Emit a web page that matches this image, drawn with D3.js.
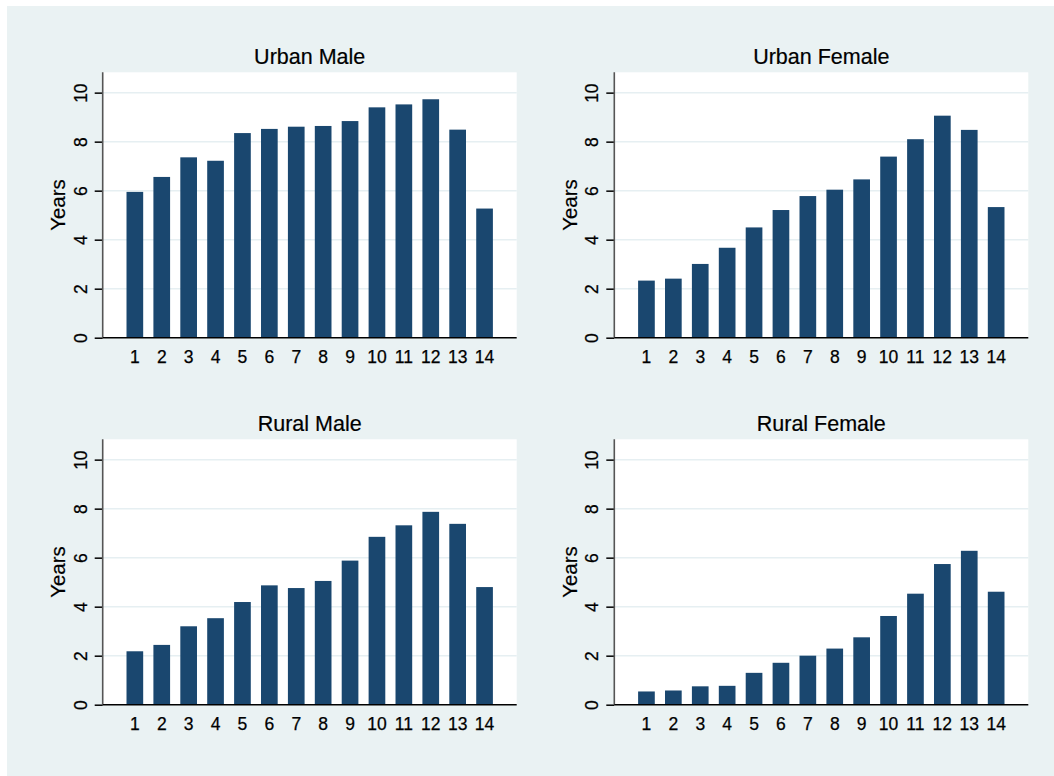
<!DOCTYPE html>
<html>
<head>
<meta charset="utf-8">
<script src="https://cdn.jsdelivr.net/npm/d3@7"></script>
<style>
  html, body { margin: 0; padding: 0; background: #ffffff; }
  svg { display: block; }
  text { font-family: "Liberation Sans", Arial, Helvetica, sans-serif; fill: #000; }
</style>
</head>
<body>
<svg id="chart" width="1054" height="776"></svg>
<script>
// ---- data ----
const categories = [1, 2, 3, 4, 5, 6, 7, 8, 9, 10, 11, 12, 13, 14];
const panelTitles = ["Urban Male", "Urban Female", "Rural Male", "Rural Female"];
const urbanMale   = [5.95, 6.56, 7.36, 7.22, 8.35, 8.52, 8.61, 8.64, 8.84, 9.40, 9.52, 9.73, 8.49, 5.27];
const urbanFemale = [2.33, 2.41, 3.01, 3.67, 4.50, 5.21, 5.78, 6.04, 6.46, 7.39, 8.10, 9.06, 8.48, 5.33];
const ruralMale   = [2.18, 2.44, 3.20, 3.53, 4.19, 4.87, 4.76, 5.05, 5.88, 6.85, 7.32, 7.87, 7.38, 4.80];
const ruralFemale = [0.54, 0.58, 0.75, 0.77, 1.30, 1.71, 2.00, 2.29, 2.75, 3.62, 4.53, 5.74, 6.28, 4.61];
const yTickValues = [0, 2, 4, 6, 8, 10];
const yAxisTitle = "Years";
const yMax = 10.83;

const seriesList = [urbanMale, urbanFemale, ruralMale, ruralFemale];

// ---- layout ----
const svg = d3.select("#chart");
svg.append("rect").attr("x", 7).attr("y", 6).attr("width", 1047).attr("height", 770).attr("fill", "#eaf2f3");

const plotW = 414, plotH = 265.4;
const panelOrigins = [
  [102.7, 72.3], [614.3, 72.3],
  [102.7, 439.3], [614.3, 439.3]
];

const x = d3.scaleBand().domain(categories).range([0, plotW]).paddingInner(0.38).paddingOuter(0.885);
const y = d3.scaleLinear().domain([0, yMax]).range([plotH, 0]);

const fontFam = "'Liberation Sans', Arial, sans-serif";

seriesList.forEach((values, i) => {
  const [ox, oy] = panelOrigins[i];
  const g = svg.append("g").attr("transform", `translate(${ox},${oy})`);

  // plot region
  g.append("rect").attr("x", 0).attr("y", 0).attr("width", plotW).attr("height", plotH).attr("fill", "#ffffff");

  // grid lines
  g.append("g")
    .selectAll("line")
    .data(yTickValues.filter(v => v > 0))
    .join("line")
    .attr("x1", 0).attr("x2", plotW)
    .attr("y1", d => y(d)).attr("y2", d => y(d))
    .attr("stroke", "#e6eff2").attr("stroke-width", 1.5);

  // bars
  g.append("g")
    .selectAll("rect")
    .data(categories.map((c, j) => ({ c, v: values[j] })))
    .join("rect")
    .attr("x", d => x(d.c))
    .attr("width", x.bandwidth())
    .attr("y", d => y(d.v))
    .attr("height", d => y(0) - y(d.v))
    .attr("fill", "#1a476f");

  // y axis
  const yAxis = g.append("g")
    .call(d3.axisLeft(y).tickValues(yTickValues).tickSize(8).tickSizeOuter(0).tickFormat(d3.format("d")));
  yAxis.select(".domain").remove();
  yAxis.selectAll(".tick line").attr("stroke", "#000").attr("stroke-width", 1.5);
  yAxis.selectAll(".tick text")
    .attr("x", null).attr("dy", null).attr("y", null)
    .attr("transform", "translate(-16,0) rotate(-90)")
    .attr("text-anchor", "middle")
    .attr("font-size", 17.5)
    .style("font-size", "17.5px")
    .style("font-family", fontFam)
    .attr("fill", "#000")
    .attr("stroke", "#000").attr("stroke-width", 0.25);
  g.append("line")
    .attr("x1", 0).attr("x2", 0).attr("y1", 0).attr("y2", plotH)
    .attr("stroke", "#555").attr("stroke-width", 1.6);

  // x axis
  const xAxis = g.append("g")
    .attr("transform", `translate(0,${plotH})`)
    .call(d3.axisBottom(x).tickSize(0).tickPadding(13.3));
  xAxis.select(".domain").remove();
  xAxis.selectAll(".tick text")
    .attr("font-size", 17.5)
    .style("font-size", "17.5px")
    .style("font-family", fontFam)
    .attr("fill", "#000")
    .attr("stroke", "#000").attr("stroke-width", 0.25);
  g.append("line")
    .attr("x1", 0).attr("x2", plotW).attr("y1", plotH).attr("y2", plotH)
    .attr("stroke", "#000").attr("stroke-width", 1.5);

  // y axis title
  g.append("text")
    .attr("transform", `translate(-37.7,${plotH / 2}) rotate(-90)`)
    .attr("text-anchor", "middle")
    .style("font-size", "20.5px")
    .attr("stroke", "#000").attr("stroke-width", 0.2)
    .text(yAxisTitle);

  // panel title
  g.append("text")
    .attr("x", plotW / 2)
    .attr("y", -8.3)
    .attr("text-anchor", "middle")
    .style("font-size", "21.5px")
    .attr("stroke", "#000").attr("stroke-width", 0.2)
    .text(panelTitles[i]);
});
</script>
</body>
</html>
